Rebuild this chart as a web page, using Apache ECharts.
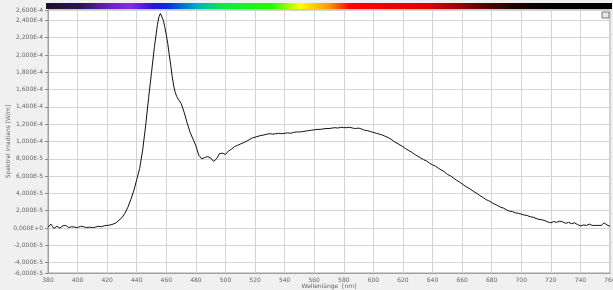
<!DOCTYPE html>
<html>
<head>
<meta charset="utf-8">
<script src="https://cdn.jsdelivr.net/npm/echarts@6/dist/echarts.min.js"></script>
<style>
html, body { margin: 0; padding: 0; background: #f0f0f0; }
#spectrumChart { width: 613px; height: 290px; }
</style>
</head>
<body>
<div id="spectrumChart"></div>
<script>
// wavelength [nm]
var wavelengths = [
    380,381,382,383,384,385,386,387,388,389,390,391,392,393,394,395,396,398,400,402,
    404,406,408,410,412,414,416,418,420,422,424,426,428,430,432,434,436,438,440,442,
    444,446,448,450,452,454,455,456,457,458,459,460,461,462,463,464,465,466,467,468,
    470,472,474,476,478,480,482,484,486,488,490,492,493,494,496,498,500,502,504,506,
    508,510,512,514,516,518,520,522,524,526,528,530,532,534,536,538,540,542,544,546,
    548,550,552,554,556,558,560,562,564,566,568,570,572,574,576,578,580,582,584,586,
    588,590,592,594,596,598,600,602,604,606,608,610,612,614,616,618,620,622,624,626,
    628,630,632,634,636,638,640,642,644,646,648,650,652,654,656,658,660,662,664,666,
    668,670,672,674,676,678,680,682,684,686,688,690,692,694,696,698,700,702,704,706,
    708,710,712,714,716,718,720,722,724,726,728,730,732,734,736,738,740,742,744,746,
    748,750,752,754,756,758,760
];
// spectral irradiance, in units of 1E-5
var irradianceE5 = [
    0.1,0.3,0.45,0.2,-0.05,0.1,0.2,0.05,0.0,0.15,0.25,0.1,0.3,0.3,0.05,0.0,0.15,0.1,0.05,0.2,
    0.15,0.05,0.1,0.05,0.1,0.2,0.15,0.25,0.3,0.35,0.45,0.6,0.9,1.2,1.7,2.4,3.3,4.3,5.6,6.9,
    9.0,11.8,15.0,18.0,21.0,23.5,24.4,24.8,24.6,24.0,23.2,22.3,21.3,20.0,18.8,17.5,16.4,15.7,15.2,14.9,
    14.4,13.4,12.2,11.1,10.3,9.5,8.4,8.0,8.15,8.25,8.1,7.7,7.65,8.0,8.6,8.65,8.5,8.9,9.1,9.4,
    9.55,9.7,9.85,10.0,10.2,10.4,10.5,10.6,10.7,10.75,10.85,10.9,10.85,10.9,10.95,10.9,10.95,11.0,10.95,11.05,
    11.1,11.1,11.15,11.2,11.25,11.3,11.35,11.4,11.4,11.45,11.5,11.5,11.55,11.6,11.55,11.65,11.6,11.6,11.65,11.55,
    11.5,11.55,11.45,11.3,11.25,11.15,11.05,10.95,10.85,10.75,10.6,10.45,10.25,10.0,9.8,9.6,9.4,9.15,8.95,8.75,
    8.5,8.3,8.1,7.9,7.75,7.5,7.3,7.15,6.9,6.7,6.5,6.2,6.05,5.8,5.55,5.35,5.1,4.85,4.65,4.45,
    4.2,4.0,3.75,3.55,3.3,3.15,2.95,2.75,2.6,2.4,2.3,2.1,1.95,1.9,1.75,1.7,1.6,1.5,1.45,1.3,
    1.25,1.1,1.0,0.95,0.85,0.7,0.6,0.75,0.65,0.8,0.7,0.55,0.65,0.5,0.6,0.4,0.25,0.35,0.3,0.45,
    0.3,0.3,0.3,0.3,0.6,0.35,0.2
];
// horizontal ticks (the two outer ones sit on the plot edges)
var yTickValues = [-5.2e-5,-4e-5,-2e-5,0,2e-5,4e-5,6e-5,8e-5,1e-4,1.2e-4,1.4e-4,1.6e-4,1.8e-4,2e-4,2.2e-4,2.4e-4,2.52e-4];

var formatSci = function (v) {
    v = Math.round(v / 2e-5) * 2e-5;
    if (Math.abs(v) < 1e-12) return '0,000E+0';
    var exp = Math.floor(Math.log10(Math.abs(v)) + 1e-9);
    var mant = v / Math.pow(10, exp);
    return mant.toFixed(3).replace('.', ',') + 'E' + exp;
};

var chart = echarts.init(document.getElementById('spectrumChart'));
var seriesData = wavelengths.map(function (w, i) { return [w, irradianceE5[i] * 1e-5]; });

var labelStyle = { fontFamily: 'DejaVu Sans', fontSize: 6, color: '#666' };

chart.setOption({
    backgroundColor: '#f0f0f0',
    animation: false,
    grid: {
        left: 48, right: 3, top: 10, bottom: 17,
        outerBoundsMode: 'none',
        containLabel: false,
        show: true, backgroundColor: '#ffffff', borderColor: '#a0a0a0', borderWidth: 1
    },
    xAxis: {
        type: 'value',
        min: 380, max: 760, interval: 20,
        name: 'Wellenlänge  [nm]',
        nameLocation: 'middle',
        nameGap: 10,
        nameMoveOverlap: false,
        nameTextStyle: labelStyle,
        axisLine: { onZero: false, lineStyle: { color: '#a0a0a0' } },
        axisTick: { show: false },
        axisLabel: Object.assign({ margin: 4 }, labelStyle),
        splitLine: { show: true, lineStyle: { color: '#d4d4d4' } }
    },
    yAxis: {
        type: 'value',
        min: -5.2e-5, max: 2.52e-4,
        name: 'Spektral irradians [W/m]',
        nameLocation: 'middle',
        nameGap: 37,
        nameMoveOverlap: false,
        nameTextStyle: labelStyle,
        axisLine: { show: true, lineStyle: { color: '#a0a0a0' } },
        axisTick: { show: true, length: 3, customValues: yTickValues, lineStyle: { color: '#888' } },
        axisLabel: Object.assign({ margin: 5, customValues: yTickValues, formatter: formatSci }, labelStyle),
        splitLine: { show: true, lineStyle: { color: '#d4d4d4' } }
    },
    graphic: [
        {
            type: 'rect',
            shape: { x: 46, y: 3, width: 566, height: 6 },
            style: {
                fill: new echarts.graphic.LinearGradient(0, 0, 1, 0, [
                    { offset: 0, color: '#1a0f2e' },
                    { offset: 0.06, color: '#2a1450' },
                    { offset: 0.113, color: '#6a20c8' },
                    { offset: 0.148, color: '#8a2be2' },
                    { offset: 0.19, color: '#2a10e0' },
                    { offset: 0.215, color: '#0030e8' },
                    { offset: 0.267, color: '#00b0c0' },
                    { offset: 0.313, color: '#00f040' },
                    { offset: 0.40, color: '#20ff00' },
                    { offset: 0.449, color: '#ffff00' },
                    { offset: 0.502, color: '#ff9000' },
                    { offset: 0.537, color: '#ff0000' },
                    { offset: 0.678, color: '#e00000' },
                    { offset: 0.767, color: '#600000' },
                    { offset: 0.825, color: '#200000' },
                    { offset: 0.89, color: '#000000' },
                    { offset: 1, color: '#000000' }
                ])
            }
        },
        {
            type: 'rect',
            shape: { x: 602, y: 12, width: 7, height: 6 },
            style: { fill: '#e8e8e8', stroke: '#777', lineWidth: 1 }
        }
    ],
    series: [{
        type: 'line',
        data: seriesData,
        showSymbol: false,
        lineStyle: { color: '#111', width: 1 }
    }]
});
</script>
</body>
</html>
